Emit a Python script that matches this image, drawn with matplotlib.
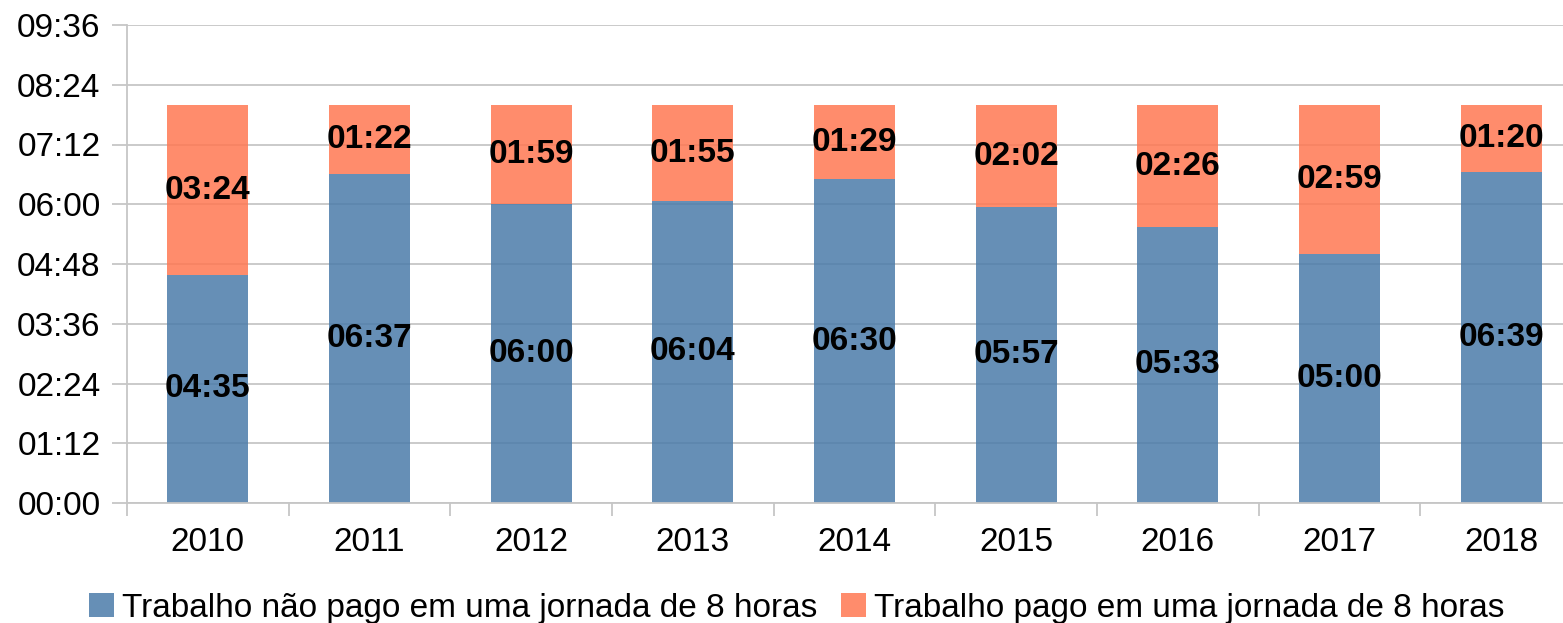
import matplotlib
matplotlib.use("Agg")
import matplotlib.pyplot as plt
from matplotlib.ticker import FuncFormatter, MultipleLocator, FixedLocator
import numpy as np

plt.rcParams['font.family'] = ['Liberation Sans', 'DejaVu Sans']

years = ['2010', '2011', '2012', '2013', '2014', '2015', '2016', '2017', '2018']
# minutes
unpaid = [275, 397, 360, 364, 390, 357, 333, 300, 399]
paid = [204, 82, 119, 115, 89, 122, 146, 179, 80]
series_names = ['Trabalho não pago em uma jornada de 8 horas',
                'Trabalho pago em uma jornada de 8 horas']

blue = (75/255, 124/255, 169/255)
orange = (1.0, 120/255, 82/255)
alpha = 0.85
grid_c = '#c6c6c6'
FS = 24

def hhmm(v, pos=None):
    v = int(round(v))
    return f"{v // 60:02d}:{v % 60:02d}"

fig = plt.figure(figsize=(15.63, 6.23), dpi=100)
ax = fig.add_axes([127/1563, (623-503)/623, (1582-127)/1563, (503-25)/623])

x = np.arange(len(years))
b1 = ax.bar(x, unpaid, width=0.5, color=blue, alpha=alpha, label=series_names[0], zorder=2)
b2 = ax.bar(x, paid, width=0.5, bottom=unpaid, color=orange, alpha=alpha, label=series_names[1], zorder=2)

for i in range(len(years)):
    ax.text(x[i], unpaid[i] / 2, hhmm(unpaid[i]), ha='center', va='center',
            fontsize=FS, fontweight='bold', color='black', zorder=3)
    ax.text(x[i], unpaid[i] + paid[i] / 2, hhmm(paid[i]), ha='center', va='center',
            fontsize=FS, fontweight='bold', color='black', zorder=3)

ax.set_xlim(-0.5, len(years) - 0.5)
ax.set_ylim(0, 576)
ax.yaxis.set_major_locator(MultipleLocator(72))
ax.yaxis.set_major_formatter(FuncFormatter(hhmm))
ax.grid(axis='y', color=grid_c, linewidth=1.3, zorder=0)
ax.set_axisbelow(True)

ax.set_xticks(x)
ax.set_xticklabels(years)
ax.xaxis.set_minor_locator(FixedLocator(np.arange(-0.5, len(years), 1.0)))
ax.tick_params(axis='x', which='major', length=0, pad=17, labelsize=FS)
ax.tick_params(axis='x', which='minor', length=9, width=1.3, color=grid_c)
ax.tick_params(axis='y', length=11, width=1.3, color=grid_c, pad=8, labelsize=FS)

for s in ['top', 'right']:
    ax.spines[s].set_visible(False)
ax.spines['left'].set_color(grid_c)
ax.spines['left'].set_linewidth(1.3)
ax.spines['bottom'].set_color(grid_c)
ax.spines['bottom'].set_linewidth(1.3)

fig.legend(handles=[b1, b2], labels=series_names, loc='center',
           bbox_to_anchor=(797/1563, 1 - 608/623), ncol=2, frameon=False,
           fontsize=FS, handlelength=0.75, handleheight=0.75,
           handletextpad=0.25, columnspacing=0.7, borderaxespad=0)

fig.savefig('out.png', dpi=100)
